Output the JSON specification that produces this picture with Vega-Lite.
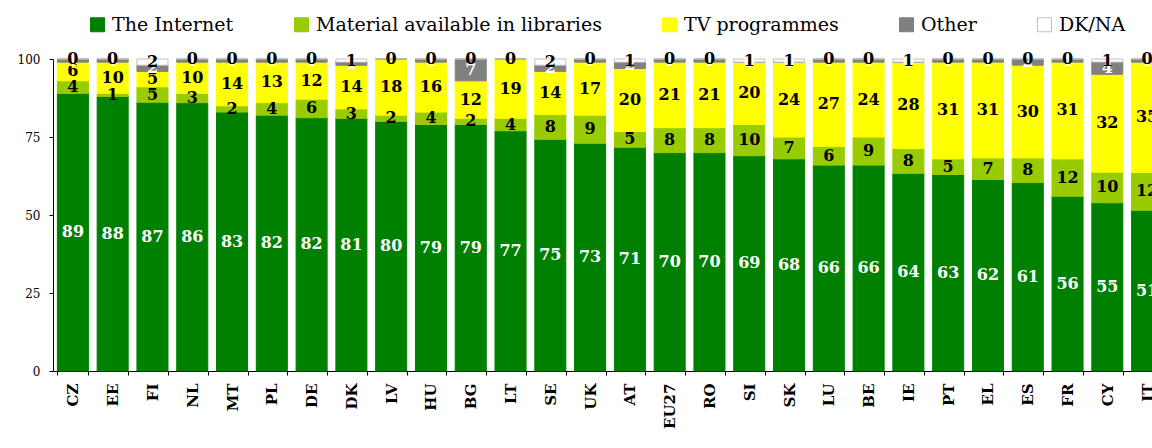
{
  "$schema": "https://vega.github.io/schema/vega-lite/v6.json",
  "width": 1114,
  "height": 312,
  "autosize": {"type": "none"},
  "padding": {"left": 53, "top": 59, "right": -15, "bottom": 77},
  "background": "white",
  "config": {"view": {"stroke": null}, "axis": {"grid": false}},
  "datasets": {
    "main": [
      {"c": "CZ", "The Internet": 89, "Material available in libraries": 4, "TV programmes": 6, "Other": 1, "DK/NA": 0},
      {"c": "EE", "The Internet": 88, "Material available in libraries": 1, "TV programmes": 10, "Other": 1, "DK/NA": 0},
      {"c": "FI", "The Internet": 87, "Material available in libraries": 5, "TV programmes": 5, "Other": 2, "DK/NA": 2},
      {"c": "NL", "The Internet": 86, "Material available in libraries": 3, "TV programmes": 10, "Other": 1, "DK/NA": 0},
      {"c": "MT", "The Internet": 83, "Material available in libraries": 2, "TV programmes": 14, "Other": 1, "DK/NA": 0},
      {"c": "PL", "The Internet": 82, "Material available in libraries": 4, "TV programmes": 13, "Other": 1, "DK/NA": 0},
      {"c": "DE", "The Internet": 82, "Material available in libraries": 6, "TV programmes": 12, "Other": 1, "DK/NA": 0},
      {"c": "DK", "The Internet": 81, "Material available in libraries": 3, "TV programmes": 14, "Other": 1, "DK/NA": 1},
      {"c": "LV", "The Internet": 80, "Material available in libraries": 2, "TV programmes": 18, "Other": 0, "DK/NA": 0},
      {"c": "HU", "The Internet": 79, "Material available in libraries": 4, "TV programmes": 16, "Other": 1, "DK/NA": 0},
      {"c": "BG", "The Internet": 79, "Material available in libraries": 2, "TV programmes": 12, "Other": 7, "DK/NA": 0},
      {"c": "LT", "The Internet": 77, "Material available in libraries": 4, "TV programmes": 19, "Other": 0, "DK/NA": 0},
      {"c": "SE", "The Internet": 75, "Material available in libraries": 8, "TV programmes": 14, "Other": 2, "DK/NA": 2},
      {"c": "UK", "The Internet": 73, "Material available in libraries": 9, "TV programmes": 17, "Other": 1, "DK/NA": 0},
      {"c": "AT", "The Internet": 71, "Material available in libraries": 5, "TV programmes": 20, "Other": 2, "DK/NA": 1},
      {"c": "EU27", "The Internet": 70, "Material available in libraries": 8, "TV programmes": 21, "Other": 1, "DK/NA": 0},
      {"c": "RO", "The Internet": 70, "Material available in libraries": 8, "TV programmes": 21, "Other": 1, "DK/NA": 0},
      {"c": "SI", "The Internet": 69, "Material available in libraries": 10, "TV programmes": 20, "Other": 0, "DK/NA": 1},
      {"c": "SK", "The Internet": 68, "Material available in libraries": 7, "TV programmes": 24, "Other": 0, "DK/NA": 1},
      {"c": "LU", "The Internet": 66, "Material available in libraries": 6, "TV programmes": 27, "Other": 1, "DK/NA": 0},
      {"c": "BE", "The Internet": 66, "Material available in libraries": 9, "TV programmes": 24, "Other": 1, "DK/NA": 0},
      {"c": "IE", "The Internet": 64, "Material available in libraries": 8, "TV programmes": 28, "Other": 0, "DK/NA": 1},
      {"c": "PT", "The Internet": 63, "Material available in libraries": 5, "TV programmes": 31, "Other": 1, "DK/NA": 0},
      {"c": "EL", "The Internet": 62, "Material available in libraries": 7, "TV programmes": 31, "Other": 1, "DK/NA": 0},
      {"c": "ES", "The Internet": 61, "Material available in libraries": 8, "TV programmes": 30, "Other": 2, "DK/NA": 0},
      {"c": "FR", "The Internet": 56, "Material available in libraries": 12, "TV programmes": 31, "Other": 1, "DK/NA": 0},
      {"c": "CY", "The Internet": 55, "Material available in libraries": 10, "TV programmes": 32, "Other": 4, "DK/NA": 1},
      {"c": "IT", "The Internet": 51, "Material available in libraries": 12, "TV programmes": 35, "Other": 1, "DK/NA": 0}
    ],
    "cats": [
      {"s": "The Internet", "k": 1},
      {"s": "Material available in libraries", "k": 2},
      {"s": "TV programmes", "k": 3},
      {"s": "Other", "k": 4},
      {"s": "DK/NA", "k": 5}
    ]
  },
  "data": {"name": "main"},
  "transform": [
    {"fold": ["The Internet", "Material available in libraries", "TV programmes", "Other", "DK/NA"], "as": ["s", "v"]},
    {"lookup": "s", "from": {"data": {"name": "cats"}, "key": "s", "fields": ["k"]}},
    {"stack": "v", "groupby": ["c"], "sort": [{"field": "k", "order": "ascending"}], "offset": "normalize", "as": ["y0", "y1"]}
  ],
  "layer": [
    {
      "mark": {"type": "bar", "strokeWidth": 1},
      "encoding": {
        "x": {
          "field": "c", "type": "nominal", "sort": null,
          "scale": {"paddingInner": 0.22, "paddingOuter": 0.11},
          "axis": {
            "title": null, "labelAngle": -90, "labelFont": "DejaVu Serif", "labelFontWeight": "bold",
            "labelFontSize": 15, "labelColor": "black", "labelPadding": 8, "tickBand": "extent",
            "domainColor": "black", "tickColor": "black", "tickSize": 4
          }
        },
        "y": {
          "field": "y0", "type": "quantitative",
          "scale": {"domain": [0, 1], "nice": false},
          "axis": {
            "title": null, "values": [0, 0.25, 0.5, 0.75, 1], "labelExpr": "format(datum.value*100,'d')",
            "labelFont": "DejaVu Serif", "labelFontSize": 12, "labelColor": "black", "labelPadding": 9,
            "domainColor": "black", "tickColor": "black", "tickSize": 4, "grid": false
          }
        },
        "y2": {"field": "y1"},
        "color": {
          "field": "s", "type": "nominal",
          "scale": {
            "domain": ["The Internet", "Material available in libraries", "TV programmes", "Other", "DK/NA"],
            "range": ["#008000", "#99cc00", "#ffff00", "#808080", "#ffffff"]
          },
          "legend": {
            "title": null, "orient": "none", "direction": "horizontal", "columns": 5,
            "legendX": 35, "legendY": -44, "symbolType": "square", "symbolSize": 196,
            "symbolStrokeWidth": 1, "labelFont": "DejaVu Serif", "labelFontSize": 19, "labelLimit": 0,
            "labelColor": "black", "labelOffset": 5, "columnPadding": 58, "padding": 0
          }
        },
        "stroke": {
          "field": "s", "type": "nominal",
          "scale": {
            "domain": ["The Internet", "Material available in libraries", "TV programmes", "Other", "DK/NA"],
            "range": ["#008000", "#99cc00", "#ffff00", "#808080", "#c0c0c0"]
          },
          "legend": {
            "title": null, "orient": "none", "direction": "horizontal", "columns": 5,
            "legendX": 35, "legendY": -44, "symbolType": "square", "symbolSize": 196,
            "symbolStrokeWidth": 1, "labelFont": "DejaVu Serif", "labelFontSize": 19, "labelLimit": 0,
            "labelColor": "black", "labelOffset": 5, "columnPadding": 58, "padding": 0
          }
        }
      }
    },
    {
      "transform": [
        {"fold": ["y0", "y1"], "as": ["pk", "pv"]},
        {"aggregate": [{"op": "mean", "field": "pv", "as": "mid"}], "groupby": ["c", "s", "v", "k"]}
      ],
      "mark": {"type": "text", "font": "DejaVu Serif", "fontWeight": "bold", "fontSize": 16, "baseline": "middle", "align": "center"},
      "encoding": {
        "x": {"field": "c", "type": "nominal", "sort": null},
        "y": {"field": "mid", "type": "quantitative"},
        "text": {"field": "v", "type": "quantitative"},
        "color": {
          "condition": {"test": "datum.s === 'The Internet' || datum.s === 'Other'", "value": "white"},
          "value": "black"
        }
      }
    }
  ]
}
